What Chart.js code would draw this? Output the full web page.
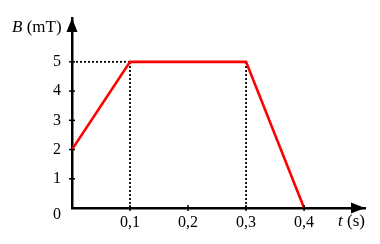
<!DOCTYPE html>
<html>
<head>
<meta charset="utf-8">
<script src="https://cdn.jsdelivr.net/npm/chart.js@4.4.0/dist/chart.umd.min.js"></script>
<style>
  html, body { margin: 0; padding: 0; background: #fff; }
  #wrap { width: 380px; height: 244px; }
</style>
</head>
<body>
<div id="wrap"><canvas id="bChart"></canvas></div>
<script>
// values
const timeTicks = [0.1, 0.2, 0.3, 0.4];
const timeTickLabels = ['0,1', '0,2', '0,3', '0,4'];
const fieldTicks = [0, 1, 2, 3, 4, 5];
const timeData = [0, 0.1, 0.3, 0.4];
const fieldData = [2, 5, 5, 0];
const guideTimes = [0.1, 0.3];
const guideLevel = 5;

const FONT = '"Liberation Serif", "Times New Roman", serif';

const lineData = timeData.map((t, i) => ({ x: t, y: fieldData[i] }));

const dotted = {
    borderColor: '#000',
    borderWidth: 1.8,
    borderDash: [2, 2],
    pointRadius: 0,
    showLine: true,
    fill: false,
    order: 2
};

const guideSets = [
    Object.assign({ data: [{ x: 0, y: guideLevel }, { x: guideTimes[0], y: guideLevel }] }, dotted)
].concat(guideTimes.map(t => Object.assign({ data: [{ x: t, y: 0 }, { x: t, y: guideLevel }] }, dotted)));

// arrows, tick marks and axis names
const decor = {
    id: 'decor',
    afterDraw(chart) {
        const { ctx, chartArea: a, scales: { x, y } } = chart;
        ctx.save();
        ctx.strokeStyle = '#000';
        ctx.fillStyle = '#000';
        ctx.lineWidth = 1.5;
        timeTicks.forEach(v => {
            const px = x.getPixelForValue(v);
            ctx.beginPath();
            ctx.moveTo(px, a.bottom - 3);
            ctx.lineTo(px, a.bottom + 3);
            ctx.stroke();
        });
        fieldTicks.slice(1).forEach(v => {
            const py = y.getPixelForValue(v);
            ctx.beginPath();
            ctx.moveTo(a.left - 3, py);
            ctx.lineTo(a.left + 3, py);
            ctx.stroke();
        });
        // y arrow
        ctx.beginPath();
        ctx.moveTo(a.left, a.top);
        ctx.lineTo(a.left - 5.5, a.top + 14);
        ctx.lineTo(a.left + 5.5, a.top + 14);
        ctx.closePath();
        ctx.fill();
        // x arrow
        ctx.beginPath();
        ctx.moveTo(a.right, a.bottom);
        ctx.lineTo(a.right - 14, a.bottom - 5.5);
        ctx.lineTo(a.right - 14, a.bottom + 5.5);
        ctx.closePath();
        ctx.fill();

        ctx.textBaseline = 'alphabetic';
        ctx.textAlign = 'left';
        ctx.font = 'italic 17px ' + FONT;
        ctx.fillText('B', 12, 32);
        let w = ctx.measureText('B').width;
        ctx.font = '17px ' + FONT;
        ctx.fillText(' (mT)', 12 + w, 32);

        ctx.font = 'italic 17px ' + FONT;
        ctx.fillText('t', 338, 226);
        w = ctx.measureText('t').width;
        ctx.font = '17px ' + FONT;
        ctx.fillText(' (s)', 338 + w, 226);
        ctx.restore();
    }
};

new Chart(document.getElementById('bChart'), {
    type: 'scatter',
    data: {
        datasets: [{
            data: lineData,
            borderColor: '#ff0000',
            borderWidth: 2.6,
            pointRadius: 0,
            showLine: true,
            fill: false,
            order: 1
        }].concat(guideSets)
    },
    options: {
        responsive: true,
        maintainAspectRatio: false,
        animation: false,
        layout: { padding: { left: 0, top: 18, right: 15, bottom: 0 } },
        plugins: { legend: { display: false }, tooltip: { enabled: false } },
        scales: {
            x: {
                type: 'linear',
                min: 0,
                max: 0.505,
                afterBuildTicks: s => { s.ticks = timeTicks.map(v => ({ value: v })); },
                afterFit: s => { s.height = 36; },
                grid: { display: false, drawTicks: false },
                border: { display: true, color: '#000', width: 2.5 },
                ticks: {
                    color: '#000',
                    padding: 5,
                    maxRotation: 0,
                    autoSkip: false,
                    font: { family: FONT, size: 16 },
                    callback: v => timeTickLabels[timeTicks.indexOf(v)]
                }
            },
            y: {
                type: 'linear',
                min: 0,
                max: 6.5,
                afterBuildTicks: s => { s.ticks = fieldTicks.map(v => ({ value: v })); },
                afterFit: s => { s.width = 72; },
                grid: { display: false, drawTicks: false },
                border: { display: true, color: '#000', width: 2.5 },
                ticks: {
                    color: '#000',
                    padding: 11,
                    autoSkip: false,
                    font: { family: FONT, size: 16, lineHeight: 0.8 },
                    callback: v => v === 0 ? ['', '0'] : String(v)
                }
            }
        }
    },
    plugins: [decor]
});
</script>
</body>
</html>
